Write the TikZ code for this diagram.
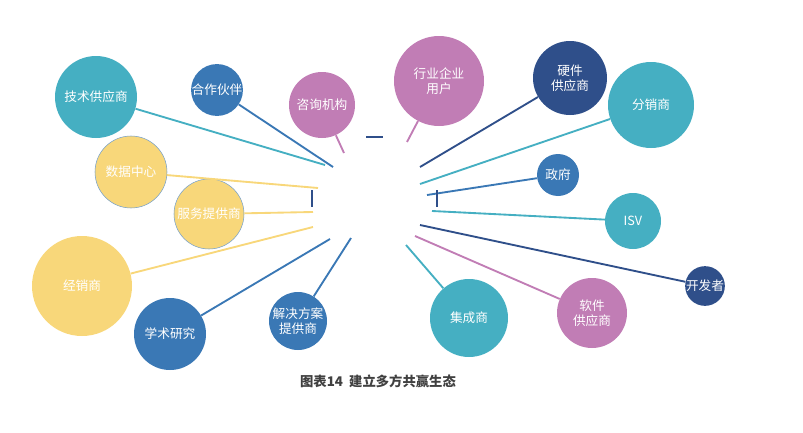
\documentclass[tikz,border=0pt]{standalone}
\usepackage{fontspec}
\newfontfamily\cjk{Noto Sans CJK SC}
\begin{document}
\begin{tikzpicture}[x=0.75pt,y=-0.75pt,
 c/.style={circle,inner sep=0pt,text=white,font=\cjk\fontsize{9.5}{11}\selectfont,align=center},
 ln/.style={line width=1.4pt}]
\definecolor{teal}{HTML}{45AFC2}\definecolor{blu}{HTML}{3A78B5}
\definecolor{pur}{HTML}{C17DB5}\definecolor{nav}{HTML}{2F4F8A}
\definecolor{yel}{HTML}{F8D77A}
\useasboundingbox (0,0) rectangle (803,432);
\node[c,fill=teal,minimum size=82pt*0.75] (a1) at (96,97) {技术供应商};
\node[c,fill=blu,minimum size=50pt*0.75] (a2) at (217,90) {合作伙伴};
\node[c,fill=pur,minimum size=66pt*0.75] (a3) at (322,105) {咨询机构};
\node[c,fill=pur,minimum size=90pt*0.75] (a4) at (439,81) {行业企业\\用户};
\node[c,fill=nav,minimum size=74pt*0.75] (a5) at (570,78) {硬件\\供应商};
\node[c,fill=teal,minimum size=86pt*0.75] (a6) at (651,105) {分销商};
\node[c,fill=yel,draw=blu!70,minimum size=72pt*0.75] (a7) at (131,172) {数据中心};
\node[c,fill=yel,draw=blu!70,minimum size=70pt*0.75] (a8) at (209,214) {服务提供商};
\node[c,fill=yel,minimum size=100pt*0.75] (a9) at (82,286) {经销商};
\node[c,fill=blu,minimum size=72pt*0.75] (a10) at (170,334) {学术研究};
\node[c,fill=blu,minimum size=58pt*0.75] (a11) at (298,321) {解决方案\\提供商};
\node[c,fill=teal,minimum size=78pt*0.75] (a12) at (469,318) {集成商};
\node[c,fill=blu,minimum size=42pt*0.75] (a13) at (558,175) {政府};
\node[c,fill=teal,minimum size=56pt*0.75] (a14) at (633,221) {ISV};
\node[c,fill=pur,minimum size=70pt*0.75] (a15) at (592,313) {软件\\供应商};
\node[c,fill=nav,minimum size=38pt*0.75] (a16) at (705,286) {开发者};
\foreach \n/\x/\y/\col in {1/325/165/teal,2/333/167/blu,3/344/153/pur,4/407/142/pur,5/420/167/nav,6/420/184/teal,7/318/188/yel,8/313/212/yel,9/313/227/yel,10/330/239/blu,11/351/238/blu,12/406/245/teal,13/427/195/blu,14/432/211/teal,15/415/236/pur,16/420/225/nav}{
 \coordinate (e\n) at (\x,\y);
 \draw[ln,\col] (a\n) -- (e\n);}
\coordinate (m1) at (312,190);\coordinate (m2) at (312,207);
\coordinate (m3) at (437,190);\coordinate (m4) at (437,207);
\coordinate (m5) at (366,137);\coordinate (m6) at (383,137);
\draw[nav,line width=0.8pt] (m1)--(m2) (m3)--(m4) (m5)--(m6);
\node[font=\cjk\bfseries\fontsize{10}{12}\selectfont,text=black!75] (cap) at (378,381) {图表14\ \ 建立多方共赢生态};
\end{tikzpicture}
\end{document}
